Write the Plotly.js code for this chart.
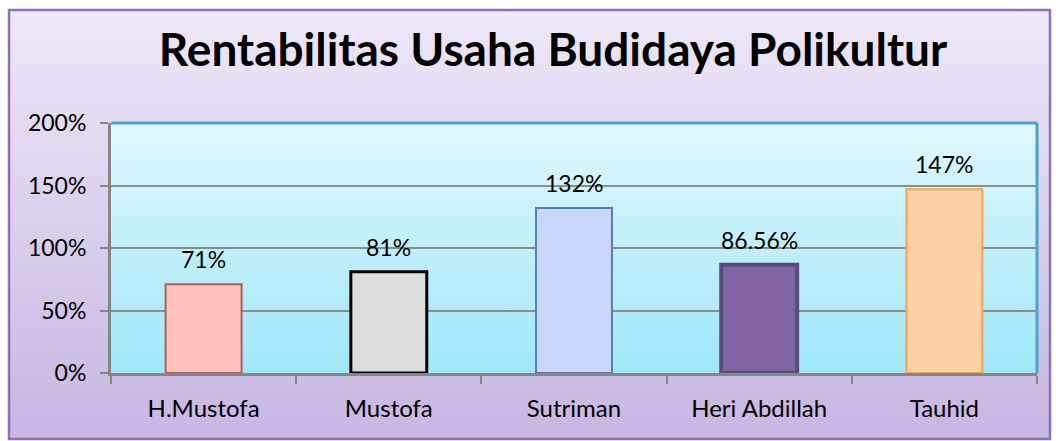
<!DOCTYPE html>
<html>
<head>
<meta charset="utf-8">
<script src="https://cdn.plot.ly/plotly-3.0.1.min.js"></script>
<style>html,body{margin:0;padding:0;background:#fff;}#chart{width:1060px;height:441px;}</style>
</head>
<body>
<div id="chart"></div>
<script>
var categories = ["H.Mustofa", "Mustofa", "Sutriman", "Heri Abdillah", "Tauhid"];
var values = [71, 81, 132, 86.56, 147];
var valueLabels = ["71%", "81%", "132%", "86.56%", "147%"];
var yTickValues = [0, 50, 100, 150, 200];
var yTickLabels = ["0%", "50%", "100%", "150%", "200%"];
var titleText = "Rentabilitas Usaha Budidaya Polikultur";

var fillColors = ["#ffc2bd", "#dcdcdc", "#c9d7fb", "#8064a2", "#fed0a6"];
var lineColors = ["#a85f5b", "#000000", "#5a7db0", "#5b4a7c", "#f5a457"];
var lineWidths = [2, 3, 2, 4, 2];

function grad(top, bottom) {
  var svg = '<svg xmlns="http://www.w3.org/2000/svg" width="100" height="100" preserveAspectRatio="none">' +
    '<defs><linearGradient id="g" x1="0" y1="0" x2="0" y2="1">' +
    '<stop offset="0" stop-color="' + top + '"/><stop offset="1" stop-color="' + bottom + '"/>' +
    '</linearGradient></defs><rect width="100" height="100" fill="url(#g)"/></svg>';
  return 'data:image/svg+xml;base64,' + btoa(svg);
}

var L = 111, R = 23, T = 123, B = 68, W = 1060, H = 441;
var pw = W - L - R, ph = H - T - B;
function px(x) { return (x - L) / pw; }
function py(y) { return (H - B - y) / ph; }

var FONT = "Lato, 'Open Sans', sans-serif";

var trace = {
  type: "bar",
  x: categories,
  y: values,
  width: 0.41,
  marker: { color: fillColors, line: { color: lineColors, width: lineWidths } },
  hoverinfo: "none",
  cliponaxis: false
};

var annotations = categories.map(function (c, i) {
  return {
    x: c, y: values[i], xref: "x", yref: "y",
    text: valueLabels[i], showarrow: false,
    yanchor: "middle", yshift: 25,
    font: { family: FONT, size: 23, color: "#000" }
  };
});

var layout = {
  width: W, height: H,
  margin: { l: L, r: R, t: T, b: B },
  paper_bgcolor: "#ffffff",
  plot_bgcolor: "rgba(0,0,0,0)",
  showlegend: false,
  title: {
    text: titleText,
    font: { family: FONT, size: 46, color: "#000", weight: "bold" },
    x: px(553), xref: "paper", xanchor: "center",
    y: 1 - 50 / H, yref: "container", yanchor: "middle"
  },
  xaxis: {
    type: "category",
    range: [-0.5, 4.5],
    showgrid: false,
    showline: true, linecolor: "#868686", linewidth: 3,
    ticks: "outside", tickson: "boundaries", ticklen: 8, tickcolor: "#868686", tickwidth: 2,
    ticklabelstandoff: 12,
    tickfont: { family: FONT, size: 24, color: "#000" },
    fixedrange: true
  },
  yaxis: {
    range: [0, 200],
    tickvals: yTickValues, ticktext: yTickLabels,
    showgrid: true, gridcolor: "#8c8c8c", gridwidth: 2,
    zeroline: false,
    showline: true, linecolor: "#868686", linewidth: 3,
    ticks: "outside", ticklen: 8, tickcolor: "#868686", tickwidth: 2,
    ticklabelstandoff: 9,
    tickfont: { family: FONT, size: 23, color: "#000" },
    fixedrange: true
  },
  images: [
    { source: grad("#eee8f8", "#c7b6e2"), xref: "paper", yref: "paper",
      x: px(9), y: py(10), sizex: px(1050) - px(9), sizey: py(10) - py(439),
      xanchor: "left", yanchor: "top", sizing: "stretch", layer: "below" },
    { source: grad("#e0f8fe", "#a0e7f8"), xref: "paper", yref: "paper",
      x: 0, y: 1, sizex: 1, sizey: 1,
      xanchor: "left", yanchor: "top", sizing: "stretch", layer: "below" }
  ],
  shapes: [
    { type: "rect", xref: "paper", yref: "paper", x0: px(9), x1: px(1050), y0: py(439), y1: py(10),
      line: { color: "#8a72b3", width: 2.5 }, fillcolor: "rgba(0,0,0,0)", layer: "below" },
    { type: "line", xref: "paper", yref: "paper", x0: 0, x1: 1, y0: 1, y1: 1,
      line: { color: "#47a6c6", width: 3 } },
    { type: "line", xref: "paper", yref: "paper", x0: 1, x1: 1, y0: 0, y1: 1,
      line: { color: "#47a6c6", width: 3 } }
  ],
  annotations: annotations
};

Plotly.newPlot("chart", [trace], layout, { staticPlot: true, displayModeBar: false });
</script>
</body>
</html>
